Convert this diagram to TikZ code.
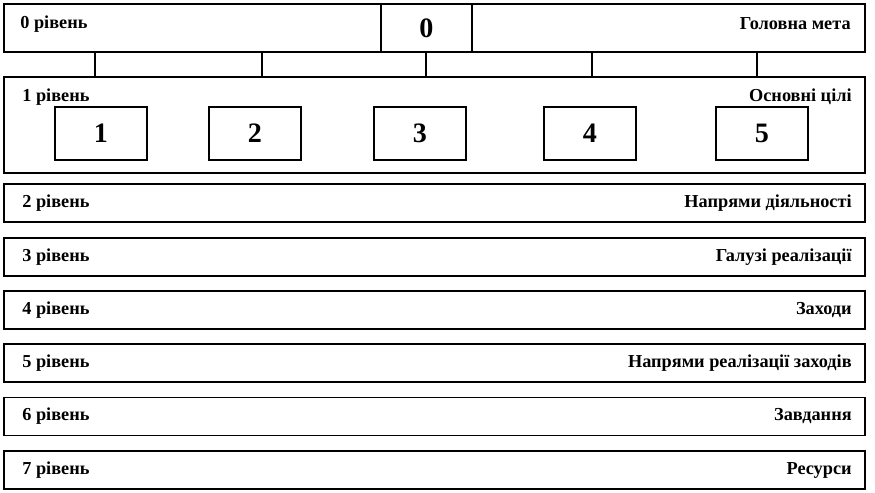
\documentclass[tikz,border=0pt]{standalone}
\usepackage{fontspec}
\setmainfont{Liberation Serif}
\usetikzlibrary{calc,positioning}

\begin{document}
\begin{tikzpicture}[x=0.02cm, y=-0.02cm,
        row/.style={rectangle, draw=black, line width=1.1pt, minimum width=17.22cm, minimum height=0.76cm, inner sep=0pt},
        goal/.style={rectangle, draw=black, line width=1.1pt, minimum width=1.84cm, minimum height=1.06cm, inner sep=0pt, font=\fontsize{16}{18}\selectfont\bfseries},
        lbl/.style={font=\fontsize{10.4}{12}\selectfont\bfseries, inner sep=0pt},
        link/.style={line width=1.1pt}
    ]
    \useasboundingbox (0,0) rectangle (875,493);
    % level 0
    \node[row, minimum height=0.96cm] (lvl0) at (434.5,28) {};
    \node[goal, minimum width=1.82cm, minimum height=0.96cm] (g0) at (426.5,28) {0};
    \node[lbl, anchor=west] (l0) at (20,24) {0 рівень};
    \node[lbl, anchor=east] (r0) at (851,24) {Головна мета};
    % level 1
    \node[row, minimum height=1.92cm] (lvl1) at (434.5,125) {};
    \node[lbl, anchor=west] (l1) at (22,97) {1 рівень};
    \node[lbl, anchor=east] (r1) at (852,97) {Основні цілі};
    \foreach \n/\x in {1/101, 2/255, 3/420, 4/590, 5/762}
        \node[goal] (g\n) at (\x,133.5) {\n};
    % links between level 0 and level 1
    \foreach \n/\x in {1/95, 2/262, 3/426, 4/592, 5/757} {
        \coordinate (c\n) at (\x,52);
        \draw[link] (c\n) -- (c\n |- lvl1.north);
    }
    % levels 2 -- 7
    \foreach \n/\y/\t in {2/203/Напрями діяльності, 3/257/Галузі реалізації, 4/310/Заходи,
            5/363/Напрями реалізації заходів, 6/416.5/Завдання, 7/470/Ресурси} {
        \node[row] (lvl\n) at (434.5,\y) {};
        \node[lbl, anchor=west] (l\n) at (22,\y) {\n{} рівень};
        \node[lbl, anchor=east] (r\n) at (852,\y) {\t};
    }
\end{tikzpicture}
\end{document}
